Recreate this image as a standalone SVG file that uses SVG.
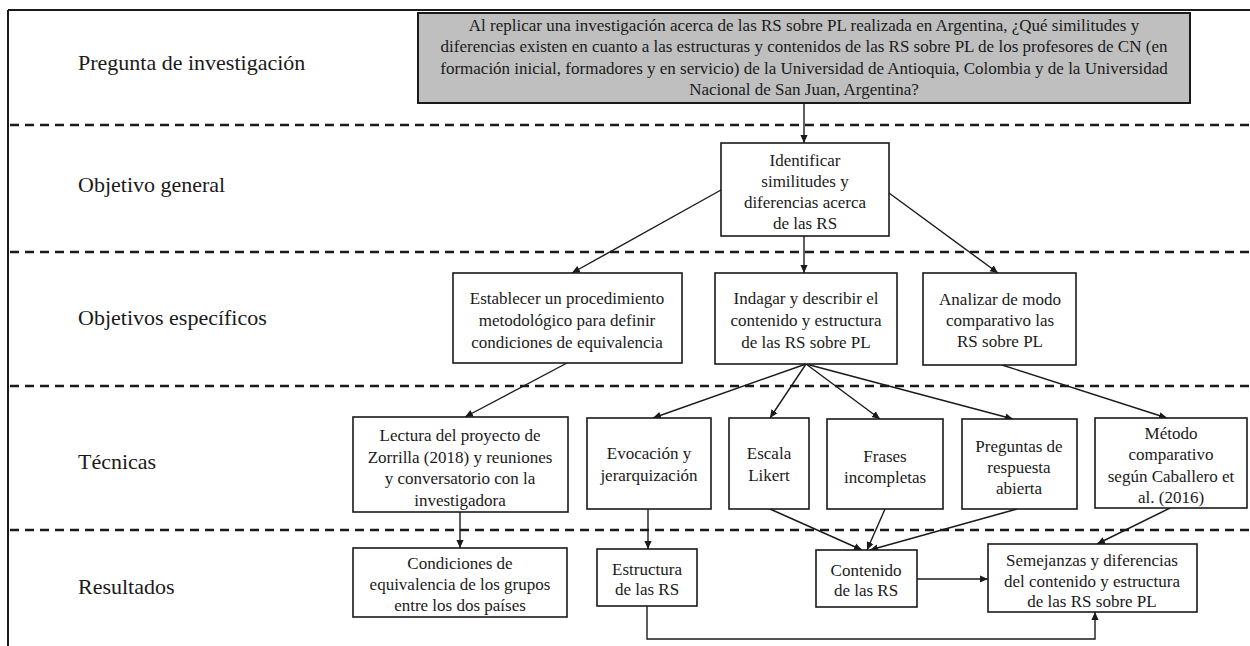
<svg xmlns="http://www.w3.org/2000/svg" width="1250" height="646" viewBox="0 0 1250 646">
  <defs>
    <marker id="arrow" viewBox="0 0 10 10" refX="10" refY="5" markerWidth="8" markerHeight="8" markerUnits="userSpaceOnUse" orient="auto">
      <path d="M0,0.5 L10,5 L0,9.5 Z" fill="#1a1a1a"/>
    </marker>
    <style>
      .frame { stroke: #1a1a1a; stroke-width: 2; fill: none; }
      .sep { stroke: #1a1a1a; stroke-width: 2.5; stroke-dasharray: 9 6; fill: none; }
      .box { fill: #ffffff; stroke: #1a1a1a; stroke-width: 1.6; }
      .qbox { fill: #bfbfbf; stroke: #1a1a1a; stroke-width: 2; }
      .lbl { font-family: "Liberation Serif", "Times New Roman", serif; font-size: 22px; fill: #1a1a1a; }
      .t { font-family: "Liberation Serif", "Times New Roman", serif; font-size: 17px; fill: #1a1a1a; text-anchor: middle; }
      .edge { stroke: #1a1a1a; stroke-width: 1.4; fill: none; marker-end: url(#arrow); }
    </style>
  </defs>

  <rect width="1250" height="646" fill="#ffffff"/>

  <!-- outer frame -->
  <g id="frame">
    <line class="frame" x1="8" y1="10" x2="1250" y2="10"/>
    <line class="frame" x1="8" y1="10" x2="8" y2="646"/>
  </g>

  <!-- row separators -->
  <g id="separators">
    <line class="sep" x1="10" y1="125" x2="1250" y2="125"/>
    <line class="sep" x1="10" y1="252" x2="1250" y2="252"/>
    <line class="sep" x1="10" y1="386" x2="1250" y2="386"/>
    <line class="sep" x1="10" y1="530" x2="1250" y2="530"/>
  </g>

  <!-- row labels -->
  <g id="row-labels">
    <text class="lbl" x="78" y="70">Pregunta de investigación</text>
    <text class="lbl" x="78" y="192">Objetivo general</text>
    <text class="lbl" x="78" y="325">Objetivos específicos</text>
    <text class="lbl" x="78" y="469">Técnicas</text>
    <text class="lbl" x="78" y="594">Resultados</text>
  </g>

  <!-- connectors -->
  <g id="connectors">
    <line class="edge" x1="804" y1="103" x2="804" y2="143"/>
    <line class="edge" x1="721" y1="190" x2="572" y2="273"/>
    <line class="edge" x1="804" y1="236" x2="804" y2="273"/>
    <line class="edge" x1="889" y1="193" x2="998" y2="273"/>
    <line class="edge" x1="567" y1="363" x2="465" y2="417"/>
    <line class="edge" x1="806" y1="364" x2="653" y2="418"/>
    <line class="edge" x1="806" y1="364" x2="770" y2="418"/>
    <line class="edge" x1="806" y1="364" x2="880" y2="419"/>
    <line class="edge" x1="806" y1="364" x2="1013" y2="419"/>
    <line class="edge" x1="1002" y1="365" x2="1167" y2="418"/>
    <line class="edge" x1="460" y1="512" x2="460" y2="548"/>
    <line class="edge" x1="648" y1="509" x2="648" y2="549"/>
    <line class="edge" x1="770" y1="509" x2="862" y2="550"/>
    <line class="edge" x1="885" y1="509" x2="867" y2="550"/>
    <line class="edge" x1="1017" y1="509" x2="870" y2="550"/>
    <line class="edge" x1="1170" y1="508" x2="1097" y2="544"/>
    <line class="edge" x1="917" y1="579" x2="988" y2="579"/>
    <polyline class="edge" points="647,606 647,639 1095,639 1095,612"/>
  </g>

  <!-- research question -->
  <g id="pregunta">
    <rect class="qbox" x="418" y="13" width="772" height="90"/>
    <text class="t" x="804" y="31">Al replicar una investigación acerca de las RS sobre PL realizada en Argentina, ¿Qué similitudes y</text>
    <text class="t" x="804" y="52">diferencias existen en cuanto a las estructuras y contenidos de las RS sobre PL de los profesores de CN (en</text>
    <text class="t" x="804" y="74">formación inicial,  formadores y en servicio) de la Universidad de Antioquia, Colombia y de la Universidad</text>
    <text class="t" x="804" y="95">Nacional de San Juan, Argentina?</text>
  </g>

  <!-- general objective -->
  <g id="objetivo-general">
    <rect class="box" x="721" y="143" width="168" height="93"/>
    <text class="t" x="805" y="166">Identificar</text>
    <text class="t" x="805" y="187">similitudes y</text>
    <text class="t" x="805" y="208">diferencias acerca</text>
    <text class="t" x="805" y="229">de las RS</text>
  </g>

  <!-- specific objectives -->
  <g id="obj-establecer">
    <rect class="box" x="453" y="273" width="229" height="90"/>
    <text class="t" x="567" y="304">Establecer un procedimiento</text>
    <text class="t" x="567" y="326">metodológico para definir</text>
    <text class="t" x="567" y="348">condiciones de equivalencia</text>
  </g>
  <g id="obj-indagar">
    <rect class="box" x="715" y="273" width="182" height="91"/>
    <text class="t" x="806" y="304">Indagar y describir el</text>
    <text class="t" x="806" y="326">contenido y estructura</text>
    <text class="t" x="806" y="348">de las RS sobre PL</text>
  </g>
  <g id="obj-analizar">
    <rect class="box" x="923" y="273" width="153" height="92"/>
    <text class="t" x="1000" y="305">Analizar de modo</text>
    <text class="t" x="1000" y="326">comparativo las</text>
    <text class="t" x="1000" y="347">RS sobre PL</text>
  </g>

  <!-- techniques -->
  <g id="tec-lectura">
    <rect class="box" x="353" y="417" width="215" height="95"/>
    <text class="t" x="460" y="441">Lectura del proyecto de</text>
    <text class="t" x="460" y="463">Zorrilla  (2018) y reuniones</text>
    <text class="t" x="460" y="484">y conversatorio con la</text>
    <text class="t" x="460" y="506">investigadora</text>
  </g>
  <g id="tec-evocacion">
    <rect class="box" x="587" y="418" width="124" height="91"/>
    <text class="t" x="649" y="459">Evocación y</text>
    <text class="t" x="649" y="481">jerarquización</text>
  </g>
  <g id="tec-escala">
    <rect class="box" x="729" y="418" width="80" height="91"/>
    <text class="t" x="769" y="459">Escala</text>
    <text class="t" x="769" y="481">Likert</text>
  </g>
  <g id="tec-frases">
    <rect class="box" x="827" y="419" width="116" height="90"/>
    <text class="t" x="885" y="462">Frases</text>
    <text class="t" x="885" y="483">incompletas</text>
  </g>
  <g id="tec-preguntas">
    <rect class="box" x="962" y="419" width="115" height="90"/>
    <text class="t" x="1019" y="452">Preguntas de</text>
    <text class="t" x="1019" y="473">respuesta</text>
    <text class="t" x="1019" y="494">abierta</text>
  </g>
  <g id="tec-metodo">
    <rect class="box" x="1095" y="418" width="152" height="90"/>
    <text class="t" x="1171" y="439">Método</text>
    <text class="t" x="1171" y="460">comparativo</text>
    <text class="t" x="1171" y="482">según Caballero et</text>
    <text class="t" x="1171" y="503">al. (2016)</text>
  </g>

  <!-- results -->
  <g id="res-condiciones">
    <rect class="box" x="353" y="548" width="214" height="69"/>
    <text class="t" x="460" y="569">Condiciones de</text>
    <text class="t" x="460" y="590">equivalencia  de los grupos</text>
    <text class="t" x="460" y="611">entre los dos países</text>
  </g>
  <g id="res-estructura">
    <rect class="box" x="597" y="549" width="100" height="57"/>
    <text class="t" x="647" y="575">Estructura</text>
    <text class="t" x="647" y="595">de las RS</text>
  </g>
  <g id="res-contenido">
    <rect class="box" x="816" y="550" width="101" height="57"/>
    <text class="t" x="866" y="576">Contenido</text>
    <text class="t" x="866" y="596">de las RS</text>
  </g>
  <g id="res-semejanzas">
    <rect class="box" x="988" y="544" width="209" height="68"/>
    <text class="t" x="1092" y="566">Semejanzas y diferencias</text>
    <text class="t" x="1092" y="587">del contenido y estructura</text>
    <text class="t" x="1092" y="607">de las RS sobre PL</text>
  </g>
</svg>
